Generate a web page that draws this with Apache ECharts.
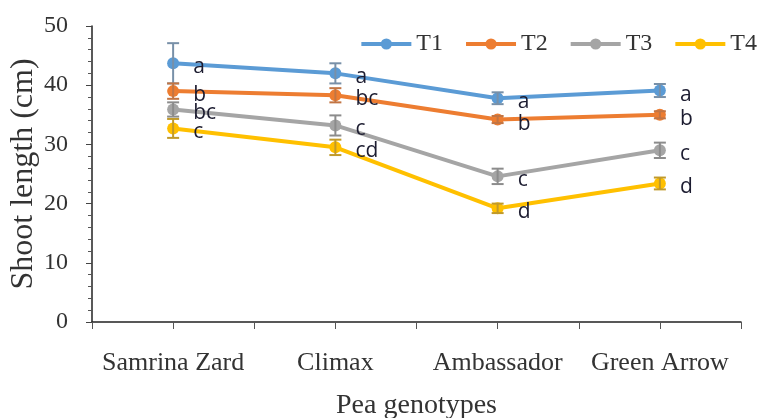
<!DOCTYPE html>
<html>
<head>
<meta charset="utf-8">
<script src="https://cdn.jsdelivr.net/npm/echarts@6/dist/echarts.min.js"></script>
<style>
  html, body { margin: 0; padding: 0; background: #fff; }
  #chart { width: 758px; height: 418px; }
</style>
</head>
<body>
<div id="chart"></div>
<script>
// Pea genotypes on the x axis, shoot length (cm) per treatment
const categories = ['Samrina Zard', 'Climax', 'Ambassador', 'Green Arrow'];
const seriesNames = ['T1', 'T2', 'T3', 'T4'];

const t1 = [43.7, 42.0, 37.8, 39.1];
const t2 = [39.0, 38.3, 34.2, 35.0];
const t3 = [35.9, 33.2, 24.6, 29.0];
const t4 = [32.7, 29.5, 19.2, 23.4];

// standard errors
const err1 = [3.4, 1.7, 1.0, 1.1];
const err2 = [1.3, 1.2, 0.6, 0.6];
const err3 = [1.2, 1.7, 1.3, 1.3];
const err4 = [1.6, 1.3, 0.8, 1.0];

// significance letters
const letters1 = ['a', 'a', 'a', 'a'];
const letters2 = ['b', 'bc', 'b', 'b'];
const letters3 = ['bc', 'c', 'c', 'c'];
const letters4 = ['c', 'cd', 'd', 'd'];

const yTicks = [0, 10, 20, 30, 40, 50];

const colors = ['#5B9BD5', '#ED7D31', '#A5A5A5', '#FFC000'];
const errColors = ['#7890a8', '#c27544', '#8c8c8c', '#c19a2a'];

const values = [t1, t2, t3, t4];
const errors = [err1, err2, err3, err4];
const letters = [letters1, letters2, letters3, letters4];

const serif = 'Liberation Serif';

function lineSeries(i) {
  return {
    name: seriesNames[i],
    type: 'line',
    xAxisIndex: 0,
    data: values[i],
    symbol: 'circle',
    symbolSize: 12,
    z: 3,
    itemStyle: { color: colors[i] },
    lineStyle: { color: colors[i], width: 4 },
    label: {
      show: true,
      position: 'right',
      distance: 14,
      offset: [0, 4],
      fontFamily: 'Open Sans',
      fontSize: 21,
      color: '#1c1c30',
      formatter: p => letters[i][p.dataIndex]
    }
  };
}

function errorSeries(i) {
  return {
    name: seriesNames[i] + ' error',
    type: 'custom',
    xAxisIndex: 0,
    z: 4,
    silent: true,
    data: values[i].map((v, k) => [k, v - errors[i][k], v + errors[i][k]]),
    renderItem: function (params, api) {
      const lo = api.coord([api.value(0), api.value(1)]);
      const hi = api.coord([api.value(0), api.value(2)]);
      const hw = 6;
      const style = { stroke: errColors[i], lineWidth: 2, fill: null };
      return {
        type: 'group',
        children: [
          { type: 'line', shape: { x1: lo[0], y1: lo[1], x2: hi[0], y2: hi[1] }, style },
          { type: 'line', shape: { x1: lo[0] - hw, y1: lo[1], x2: lo[0] + hw, y2: lo[1] }, style },
          { type: 'line', shape: { x1: hi[0] - hw, y1: hi[1], x2: hi[0] + hw, y2: hi[1] }, style }
        ]
      };
    }
  };
}

const chart = echarts.init(document.getElementById('chart'), null, { renderer: 'canvas' });

chart.setOption({
  animation: false,
  backgroundColor: '#fff',
  grid: { left: 92, right: 17, top: 26, bottom: 96, containLabel: false, outerBoundsMode: 'none' },
  legend: {
    data: seriesNames,
    right: 1,
    top: 32,
    padding: 0,
    itemWidth: 50,
    itemHeight: 14,
    itemGap: 21,
    lineStyle: { width: 4 },
    textStyle: { fontFamily: serif, fontSize: 24, color: '#333' }
  },
  xAxis: [
    {
      type: 'category',
      data: categories,
      boundaryGap: true,
      name: 'Pea genotypes',
      nameLocation: 'middle',
      nameGap: 70,
      nameMoveOverlap: false,
      nameTextStyle: { fontFamily: serif, fontSize: 28, color: '#333' },
      axisLine: { lineStyle: { color: '#222', width: 1.5 } },
      axisTick: { show: true, length: 7, lineStyle: { color: '#555' } },
      axisLabel: { fontFamily: serif, fontSize: 26, color: '#333', margin: 28, interval: 0 }
    },
    {
      type: 'category',
      data: categories,
      boundaryGap: true,
      position: 'bottom',
      axisLine: { show: false },
      axisTick: { show: true, alignWithLabel: true, length: 7, lineStyle: { color: '#555' } },
      axisLabel: { show: false }
    }
  ],
  yAxis: {
    type: 'value',
    min: yTicks[0],
    max: yTicks[yTicks.length - 1],
    interval: 10,
    name: 'Shoot length (cm)',
    nameLocation: 'middle',
    nameGap: 52,
    nameMoveOverlap: false,
    nameTextStyle: { fontFamily: serif, fontSize: 32, color: '#333' },
    axisLine: { show: true, lineStyle: { color: '#222', width: 1.5 } },
    axisTick: { show: true, length: 6, lineStyle: { color: '#444' } },
    minorTick: { show: true, splitNumber: 5, length: 4, lineStyle: { color: '#555' } },
    splitLine: { show: false },
    axisLabel: { fontFamily: serif, fontSize: 24, color: '#333', margin: 24 }
  },
  series: [
    lineSeries(0), lineSeries(1), lineSeries(2), lineSeries(3),
    errorSeries(0), errorSeries(1), errorSeries(2), errorSeries(3)
  ]
});
</script>
</body>
</html>
